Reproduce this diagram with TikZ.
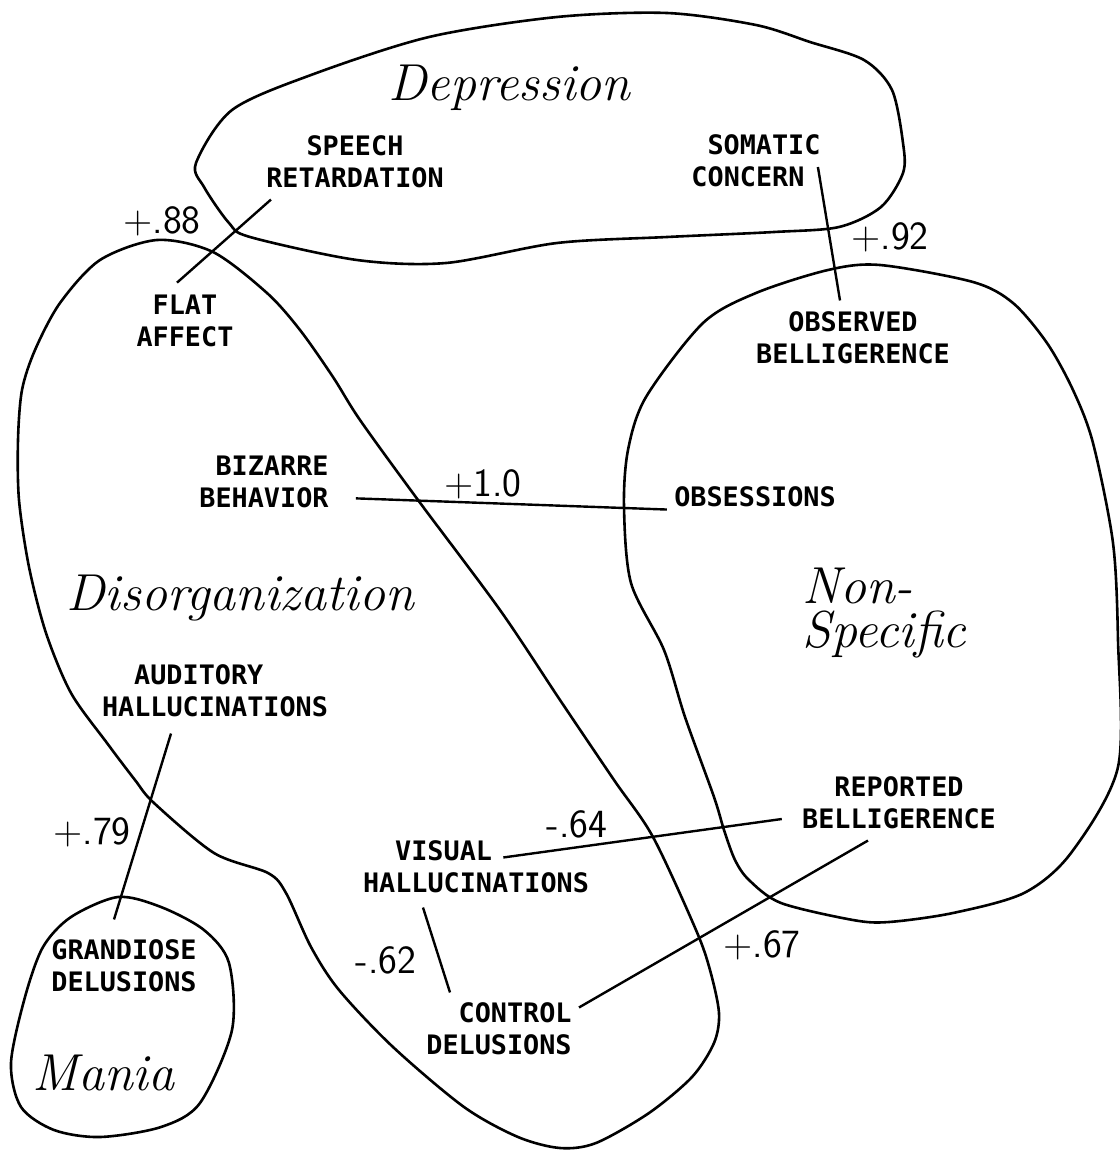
\documentclass[tikz,border=0pt]{standalone}
\usepackage{fontspec}
\newfontfamily\labelfont{DejaVu Sans Mono}
\begin{document}
\begin{tikzpicture}[x=0.5pt,y=-0.5pt,
  blob/.style={line width=1.3pt,line join=round},
  link/.style={line width=1.2pt},
  lbl/.style={font=\fontsize{13.4}{16}\selectfont\labelfont\bfseries,inner sep=0pt},
  region/.style={font=\fontsize{26}{22}\selectfont\itshape,inner sep=0pt},
  corr/.style={font=\fontsize{20}{24}\selectfont\sffamily,inner sep=0pt}]
 \path[use as bounding box,fill=white] (0,0) rectangle (1119,1151);
 % the four clusters
 \draw[blob] plot[smooth cycle] coordinates {(196,163) (232,110) (311,75) (429,37) (557,17) (667,13) (756,25) (810,42) (864,60) (892,90) (903,143) (903,173) (881,207) (839,227) (774,232) (667,237) (557,243) (446,263) (357,260) (250,237) (229,223) (204,187)};
 \draw[blob] plot[smooth cycle] coordinates {(157,240) (213,252) (267,293) (300,330) (333,377) (360,420) (418,500) (500,610) (560,700) (614,780) (653,837) (696,930) (710,970) (719,1013) (714,1043) (692,1077) (649,1113) (596,1143) (560,1148) (518,1137) (464,1107) (393,1047) (339,990) (311,947) (286,893) (268,873) (214,853) (154,803) (135,780) (107,743) (71,693) (46,633) (29,567) (19,500) (18,440) (22,390) (35,350) (60,303) (100,260)};
 \draw[blob] plot[smooth cycle] coordinates {(118,897) (161,907) (204,930) (229,963) (232,1030) (200,1103) (161,1127) (100,1137) (54,1130) (21,1107) (11,1063) (25,997) (43,947) (71,917)};
 \draw[blob] plot[smooth cycle] coordinates {(880,265) (973,282) (1013,303) (1047,343) (1073,390) (1093,443) (1113,543) (1118,640) (1118,767) (1071,853) (1024,893) (953,913) (889,922) (853,920) (781,903) (749,880) (735,860) (724,830) (714,797) (685,717) (664,650) (631,583) (624,507) (628,450) (646,397) (703,323) (756,293) (828,270)};
 \node[region,anchor=base west] (depr) at (388,100) {Depression};
 \node[region,anchor=base west] (disorg) at (66,610) {Disorganization};
 \node[region,anchor=base west] (mania) at (32,1090) {Mania};
 \node[region,anchor=north west,align=left] (nonspec) at (802,568) {Non-\\Specific};
 % symptoms
 \node[lbl,align=center] (speech) at (355,162) {SPEECH\\RETARDATION};
 \node[lbl,align=left] (somatic) at (756,161) {\hspace*{0.6em}SOMATIC\\CONCERN};
 \node[lbl,align=center] (flat) at (185,321) {FLAT\\AFFECT};
 \node[lbl,align=center] (observed) at (853,338) {OBSERVED\\BELLIGERENCE};
 \node[lbl,align=right] (bizarre) at (264,482) {BIZARRE\\BEHAVIOR};
 \node[lbl] (obsess) at (755,497) {OBSESSIONS};
 \node[lbl,align=left] (auditory) at (215,691) {\hspace*{1.2em}AUDITORY\\HALLUCINATIONS};
 \node[lbl,align=center] (grandiose) at (124,966) {GRANDIOSE\\DELUSIONS};
 \node[lbl,align=left] (visual) at (476,867) {\hspace*{1.2em}VISUAL\\HALLUCINATIONS};
 \node[lbl,align=right] (control) at (499,1029) {CONTROL\\DELUSIONS};
 \node[lbl,align=center] (reported) at (899,803) {REPORTED\\BELLIGERENCE};
 % correlations
 \draw[link] ([shift={(-84,11)}]speech.south) -- ([shift={(-8,-12)}]flat.north);
 \draw[link] ([shift={(-3,6)}]somatic.east) -- ([shift={(-13,-11)}]observed.north);
 \draw[link] ([shift={(27,-10)}]bizarre.south east) -- ([shift={(-7,2)}]obsess.south west);
 \draw[link] ([shift={(-44,16)}]auditory.south) -- ([shift={(-10,-20)}]grandiose.north);
 \draw[link] ([shift={(-86,17)}]visual.north east) -- ([shift={(-20,16)}]reported.west);
 \draw[link] ([shift={(-53,14)}]visual.south) -- ([shift={(-49,-10)}]control.north);
 \draw[link] ([shift={(7,5)}]control.north east) -- ([shift={(-31,11)}]reported.south);
 \node[corr] (r88) at (162,221) {+.88};
 \node[corr] (r92) at (890,237) {+.92};
 \node[corr] (r10) at (483,484) {+1.0};
 \node[corr] (r79) at (92,832) {+.79};
 \node[corr] (r64) at (577,824) {-.64};
 \node[corr] (r62) at (386,960) {-.62};
 \node[corr] (r67) at (762,945) {+.67};
\end{tikzpicture}
\end{document}
